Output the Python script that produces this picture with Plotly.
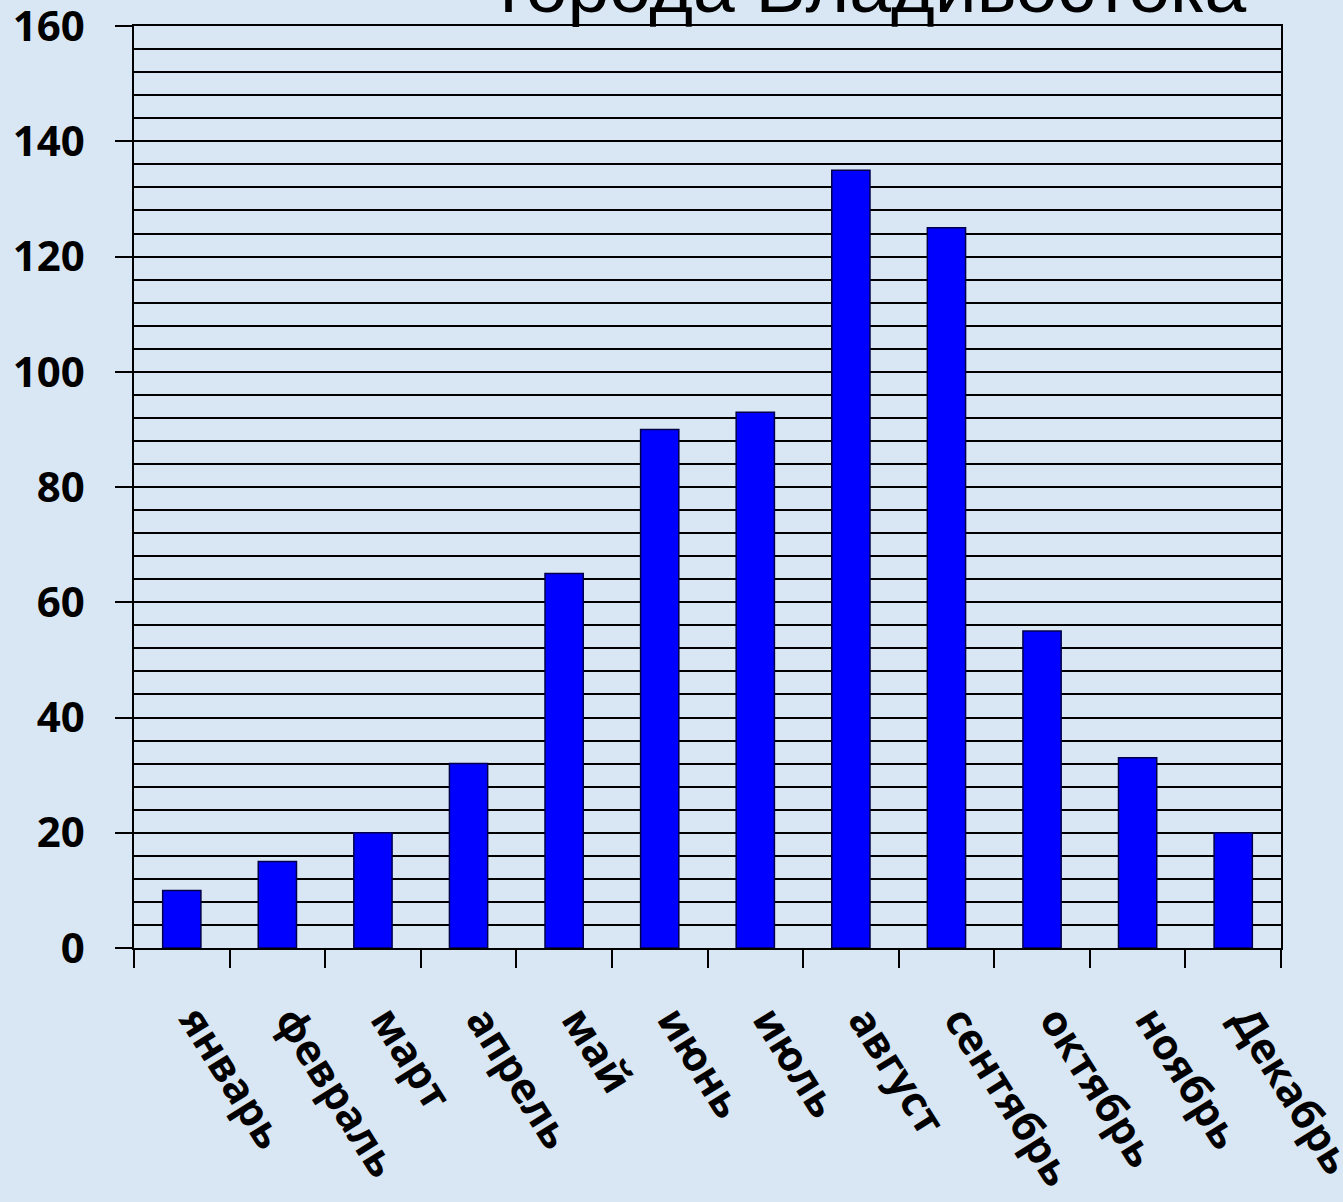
import plotly.graph_objects as go

months = ["январь", "февраль", "март", "апрель", "май", "июнь",
          "июль", "август", "сентябрь", "октябрь", "ноябрь", "Декабрь"]
precip = [10, 15, 20, 32, 65, 90, 93, 135, 125, 55, 33, 20]
y_ticks = [0, 20, 40, 60, 80, 100, 120, 140, 160]
title_text = "города Владивостока"

fig = go.Figure()
fig.add_trace(go.Bar(
    x=months, y=precip,
    marker=dict(color="#0000ff", line=dict(color="#00004a", width=1.5)),
))

bg = "#d9e7f4"
fig.update_layout(
    width=1343, height=1202,
    margin=dict(l=134, r=62, t=26, b=254, autoexpand=False),
    paper_bgcolor=bg, plot_bgcolor=bg,
    bargap=0.6, showlegend=False,
    font=dict(family="Open Sans", color="black"),
)
fig.update_xaxes(
    automargin=False,
    showline=True, linecolor="black", linewidth=1.5, mirror=True,
    ticks="outside", tickson="boundaries", ticklen=18, tickwidth=1.5, tickcolor="black",
    tickangle=58, tickfont=dict(family="Open Sans", size=42, weight="bold"),
    ticklabelstandoff=29, ticklabelshift=14, showgrid=False,
)
fig.update_yaxes(
    automargin=False,
    range=[0, 160.02], tickvals=y_ticks,
    showline=True, linecolor="black", linewidth=1.5, mirror=True,
    ticks="outside", ticklen=17, tickwidth=1.5, tickcolor="black",
    tickfont=dict(family="Open Sans", size=42, weight="bold"),
    ticklabelstandoff=22, ticklabeloverflow="allow",
    showgrid=True, gridcolor="black", gridwidth=1.5,
    minor=dict(dtick=4, showgrid=True, gridcolor="black", gridwidth=1.5, ticks=""),
    zeroline=False,
)
fig.add_annotation(
    text=title_text, xref="paper", yref="paper", x=0.645, y=0.9956,
    xanchor="center", yanchor="bottom", showarrow=False,
    font=dict(family="Liberation Sans", size=75, color="black"),
)
fig.write_html("out.html")
